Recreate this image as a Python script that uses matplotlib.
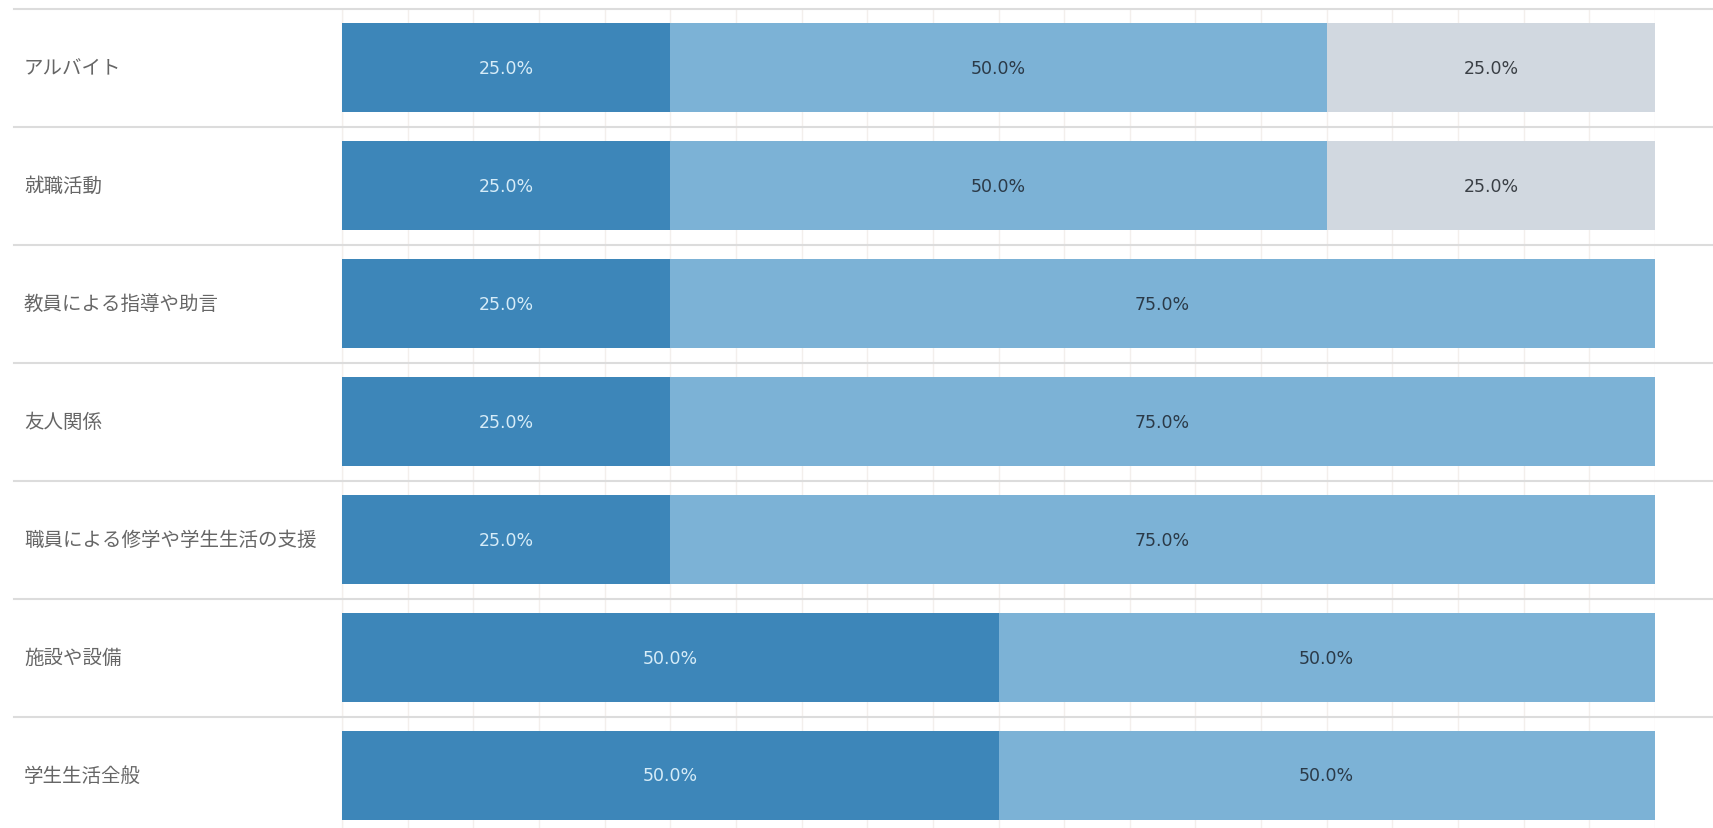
import matplotlib.pyplot as plt
import matplotlib.transforms as mtransforms

plt.rcParams['font.family'] = ['Noto Sans CJK JP', 'DejaVu Sans']

# データ
categories = ['アルバイト', '就職活動', '教員による指導や助言', '友人関係',
              '職員による修学や学生生活の支援', '施設や設備', '学生生活全般']
series_1 = [25.0, 25.0, 25.0, 25.0, 25.0, 50.0, 50.0]
series_2 = [50.0, 50.0, 75.0, 75.0, 75.0, 50.0, 50.0]
series_3 = [25.0, 25.0, 0.0, 0.0, 0.0, 0.0, 0.0]

colors = ['#3d86b9', '#7cb2d6', '#d1d8e0']
text_colors = ['#d6ecf8', '#2b3a48', '#3a3f45']

W, H = 1713, 829
fig = plt.figure(figsize=(W / 100, H / 100), dpi=100)
left, right = 342 / W, 1655 / W
top_px, bot_px = 9.5, 835.5
ax = fig.add_axes([left, (H - bot_px) / H, right - left, (bot_px - top_px) / H])

n = len(categories)
ypos = list(range(n))
lefts = [0.0] * n
for vals, col, tcol in zip([series_1, series_2, series_3], colors, text_colors):
    bars = ax.barh(ypos, vals, left=lefts, height=0.75, color=col, zorder=2)
    for b, v in zip(bars, vals):
        if v > 0:
            ax.text(b.get_x() + b.get_width() / 2, b.get_y() + b.get_height() / 2,
                    f'{v:.1f}%', ha='center', va='center', fontsize=12.5,
                    family='DejaVu Sans', color=tcol, zorder=3)
    lefts = [l + v for l, v in zip(lefts, vals)]

ax.set_xlim(0, 100)
ax.set_ylim(n - 0.5, -0.5)
ax.set_xticks(range(0, 101, 5))
ax.grid(axis='x', color='#f3efec', linewidth=1, zorder=0)
ax.tick_params(left=False, bottom=False, labelbottom=False, labelleft=False)
for s in ['top', 'right', 'bottom']:
    ax.spines[s].set_visible(False)
ax.spines['left'].set_color('#d8d8d8')
ax.spines['left'].set_zorder(1)

# 行の区切り線とラベル
trans = mtransforms.blended_transform_factory(fig.transFigure, ax.transData)
for i in range(n):
    fig.add_artist(plt.Line2D([14 / W, 1.0], [i - 0.5, i - 0.5], transform=trans,
                              color='#dcdcdc', linewidth=1.5))
    fig.text(24 / W, i, categories[i], transform=trans, ha='left', va='center',
             fontsize=14, color='#666666')

fig.savefig('out.png', dpi=100)
